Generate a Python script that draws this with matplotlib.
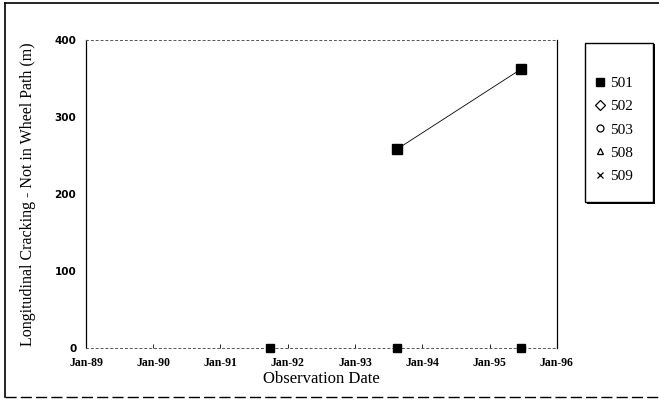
import pandas as pd
import matplotlib
matplotlib.use("Agg")
import matplotlib.pyplot as plt
from matplotlib.lines import Line2D
from matplotlib.patches import Rectangle

plt.rcParams['font.family'] = ['Liberation Serif', 'DejaVu Serif']

# survey dates and values
survey_dates = pd.to_datetime(['1991-09-25', '1993-08-15', '1995-06-20'])
s501_dates = pd.to_datetime(['1993-08-15', '1995-06-20'])
s501_vals = [258, 362]
zero_vals = [0, 0, 0]

sections = ['502', '503', '508', '509']
markers = {'502': 'D', '503': 'o', '508': '^', '509': 'x'}

year_ticks = pd.to_datetime(['%d-01-01' % y for y in range(1989, 1997)])
tick_labels = ['Jan-89', 'Jan-90', 'Jan-91', 'Jan-92', 'Jan-93', 'Jan-94', 'Jan-95', 'Jan-96']

fig = plt.figure(figsize=(6.59, 4.03), dpi=100)
ax = fig.add_axes([0.1305, 0.136, 0.7145, 0.765])

# other sections sit at zero and overlap into a dark blob
for sec in sections:
    mk = markers[sec]
    ax.plot(survey_dates, zero_vals, linestyle='none', marker=mk, markersize=4,
            markerfacecolor='black', markeredgecolor='black',
            markeredgewidth=1.0, clip_on=False, zorder=3)
ax.plot(survey_dates, zero_vals, linestyle='none', marker='s', markersize=5.5,
        color='black', clip_on=False, zorder=3)

ax.plot(s501_dates, s501_vals, color='black', linewidth=0.6, marker='s',
        markersize=6.5, zorder=4)

ax.set_xlim(year_ticks[0], year_ticks[-1])
ax.set_ylim(0, 400)
ax.set_xticks(year_ticks)
ax.set_xticklabels(tick_labels, fontsize=8.5, fontweight='bold')
ax.set_yticks([0, 100, 200, 300, 400])
ax.set_yticklabels(['0', '100', '200', '300', '400'], family='DejaVu Sans',
                   fontsize=7.5, fontweight='bold')
ax.tick_params(axis='x', direction='in', length=3, width=0.6, pad=6)
ax.tick_params(axis='y', length=0, pad=7)

ax.set_xlabel('Observation Date', fontsize=12, labelpad=2)
ax.set_ylabel('Longitudinal Cracking - Not in Wheel Path (m)', fontsize=11.5, labelpad=13)

for side in ['left', 'right']:
    ax.spines[side].set_linewidth(0.9)
for side in ['top', 'bottom']:
    ax.spines[side].set_linestyle((0, (2, 3)))
    ax.spines[side].set_linewidth(0.7)
    ax.spines[side].set_color('#555555')

handles = [Line2D([], [], linestyle='none', marker='s', markersize=6,
                  color='black', label='501')]
for sec in sections:
    mk = markers[sec]
    handles.append(Line2D([], [], linestyle='none', marker=mk, markersize=5,
                          markerfacecolor='none', markeredgecolor='black',
                          markeredgewidth=0.9, label=sec))
leg = fig.legend(handles=handles, loc='upper left', bbox_to_anchor=(0.903, 0.81),
                 fontsize=11, frameon=False, borderpad=0, labelspacing=0.62,
                 handlelength=0.6, handletextpad=0.35, borderaxespad=0)
leg.set_zorder(5)

# legend box with a heavy shadow edge, as in the print
fig.add_artist(Rectangle((0.891, 0.493), 0.103, 0.398, transform=fig.transFigure,
                         facecolor='black', edgecolor='none'))
fig.add_artist(Rectangle((0.888, 0.498), 0.103, 0.395, transform=fig.transFigure,
                         facecolor='white', edgecolor='black', linewidth=1.0))

# scanned page frame
fig.add_artist(Line2D([0.008, 0.008], [0.015, 0.993], color='black', linewidth=1.2))
fig.add_artist(Line2D([0.008, 1.0], [0.993, 0.993], color='black', linewidth=1.2))
fig.add_artist(Line2D([0.008, 1.0], [0.015, 0.015], color='black', linewidth=1.0,
                      linestyle=(0, (8, 3))))

fig.savefig('out.png', dpi=100)
